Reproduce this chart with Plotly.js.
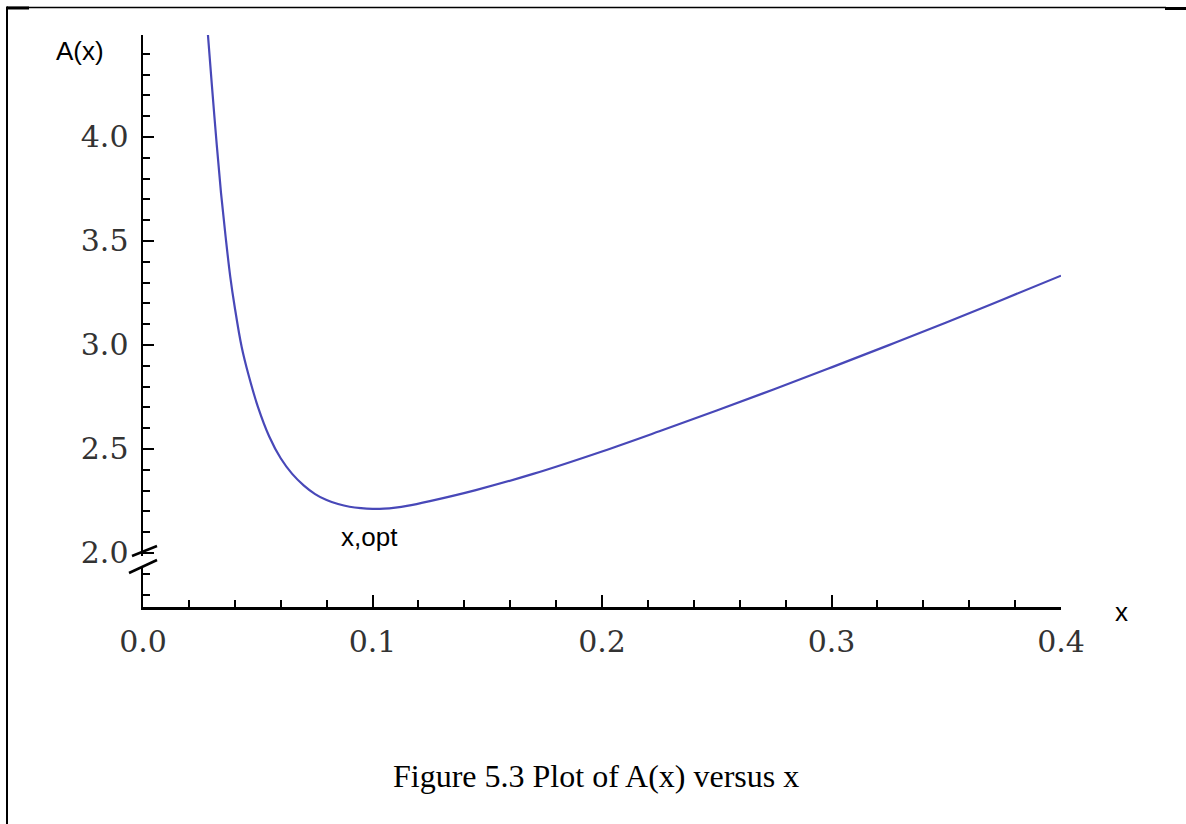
<!DOCTYPE html>
<html>
<head>
<meta charset="utf-8">
<script src="https://cdn.plot.ly/plotly-3.0.1.min.js"></script>
<style>
  html, body { margin: 0; padding: 0; background: #fff; }
  #chart { width: 1186px; height: 824px; }
</style>
</head>
<body>
<div id="chart"></div>
<script>
// Values
const xValues = [0.0283, 0.0300, 0.0320, 0.0340, 0.0360, 0.0380, 0.0400, 0.0430, 0.0460, 0.0500,
                 0.0550, 0.0600, 0.0650, 0.0700, 0.0750, 0.0800, 0.0850, 0.0900, 0.0950, 0.1000,
                 0.1050, 0.1100, 0.1150, 0.1250, 0.1450, 0.1700, 0.2000, 0.2250, 0.2500, 0.2750,
                 0.3000, 0.3250, 0.3500, 0.3750, 0.4000];
const aValues = [4.490, 4.250, 3.980, 3.730, 3.520, 3.330, 3.180, 2.990, 2.855, 2.705,
                 2.560, 2.455, 2.380, 2.325, 2.283, 2.254, 2.235, 2.222, 2.215, 2.212,
                 2.213, 2.218, 2.226, 2.249, 2.302, 2.380, 2.488, 2.585, 2.685, 2.787,
                 2.892, 2.999, 3.108, 3.220, 3.333];
const xTickVals = [0.0, 0.1, 0.2, 0.3, 0.4];
const xTickText = ["0.0", "0.1", "0.2", "0.3", "0.4"];
const yTickVals = [2.0, 2.5, 3.0, 3.5, 4.0];
const yTickText = ["2.0", "2.5", "3.0", "3.5", "4.0"];
const xTitle = "x";
const yTitle = "A(x)";
const pointLabel = "x,opt";
const pointLabelX = 0.0985;
const pointLabelY = 2.077;
const caption = "Figure 5.3 Plot of A(x) versus x";

// Plot-area geometry (pixels) for paper-coordinate decorations
const L = 143, T = 35, W = 918, H = 572;
const px = v => (v - L) / W;
const py = v => (T + H - v) / H;

const tickFont = {family: "DejaVu Serif", size: 30, color: "#333"};
const labelFont = {family: "Liberation Sans, Arial", size: 26, color: "#000"};

const trace = {
  x: xValues, y: aValues, type: "scatter", mode: "lines",
  line: {color: "rgb(72,72,184)", width: 2.2, shape: "spline", smoothing: 1},
  hoverinfo: "skip"
};

const layout = {
  width: 1186, height: 824,
  margin: {l: L, r: 1186 - L - W, t: T, b: 824 - T - H, pad: 0},
  paper_bgcolor: "#fff", plot_bgcolor: "#fff",
  showlegend: false,
  xaxis: {
    range: [0, 0.4], showgrid: false, zeroline: false,
    showline: true, linecolor: "#000", linewidth: 2.5,
    ticks: "inside", ticklen: 12, tickwidth: 2, tickcolor: "#000",
    tickvals: xTickVals, ticktext: xTickText, tickfont: tickFont,
    ticklabelstandoff: 6,
    minor: {dtick: 0.02, tick0: 0, ticks: "inside", ticklen: 7, tickwidth: 2, tickcolor: "#000"}
  },
  yaxis: {
    range: [1.74, 4.49], showgrid: false, zeroline: false,
    showline: true, linecolor: "#000", linewidth: 2.5,
    ticks: "inside", ticklen: 11, tickwidth: 2, tickcolor: "#000",
    tickvals: yTickVals, ticktext: yTickText, tickfont: tickFont,
    ticklabelstandoff: 6,
    minor: {dtick: 0.1, tick0: 0, ticks: "inside", ticklen: 7, tickwidth: 2, tickcolor: "#000"}
  },
  annotations: [
    {xref: "paper", yref: "paper", x: px(80), y: py(51), text: yTitle, showarrow: false,
     font: labelFont, xanchor: "center", yanchor: "middle"},
    {xref: "paper", yref: "paper", x: px(1121), y: py(612), text: xTitle, showarrow: false,
     font: labelFont, xanchor: "center", yanchor: "middle"},
    {xref: "x", yref: "y", x: pointLabelX, y: pointLabelY, text: pointLabel, showarrow: false,
     font: labelFont, xanchor: "center", yanchor: "middle"},
    {xref: "paper", yref: "paper", x: px(596), y: py(776), text: caption, showarrow: false,
     font: {family: "Liberation Serif, Times New Roman", size: 32, color: "#000"},
     xanchor: "center", yanchor: "middle"}
  ],
  shapes: [
    // axis break: white gap + two slanted strokes
    {type: "rect", xref: "paper", yref: "paper", x0: px(138), x1: px(148), y0: py(567), y1: py(556),
     fillcolor: "#fff", line: {width: 0}, layer: "above"},
    {type: "line", xref: "paper", yref: "paper", x0: px(132), y0: py(556), x1: px(157), y1: py(546),
     line: {color: "#000", width: 2.5}, layer: "above"},
    {type: "line", xref: "paper", yref: "paper", x0: px(129), y0: py(573), x1: px(157), y1: py(560),
     line: {color: "#000", width: 2.5}, layer: "above"},
    // page border fragments
    {type: "line", xref: "paper", yref: "paper", x0: px(7), y0: py(7.5), x1: px(1166), y1: py(7.5),
     line: {color: "#000", width: 1.5}, layer: "above"},
    {type: "line", xref: "paper", yref: "paper", x0: px(7), y0: py(8), x1: px(29), y1: py(8),
     line: {color: "#000", width: 3}, layer: "above"},
    {type: "line", xref: "paper", yref: "paper", x0: px(1165), y0: py(8.5), x1: px(1186), y1: py(8.5),
     line: {color: "#000", width: 3}, layer: "above"},
    {type: "line", xref: "paper", yref: "paper", x0: px(7), y0: py(6.5), x1: px(7), y1: py(824),
     line: {color: "#000", width: 2}, layer: "above"}
  ]
};

Plotly.newPlot("chart", [trace], layout, {displayModeBar: false, staticPlot: true});
</script>
</body>
</html>
